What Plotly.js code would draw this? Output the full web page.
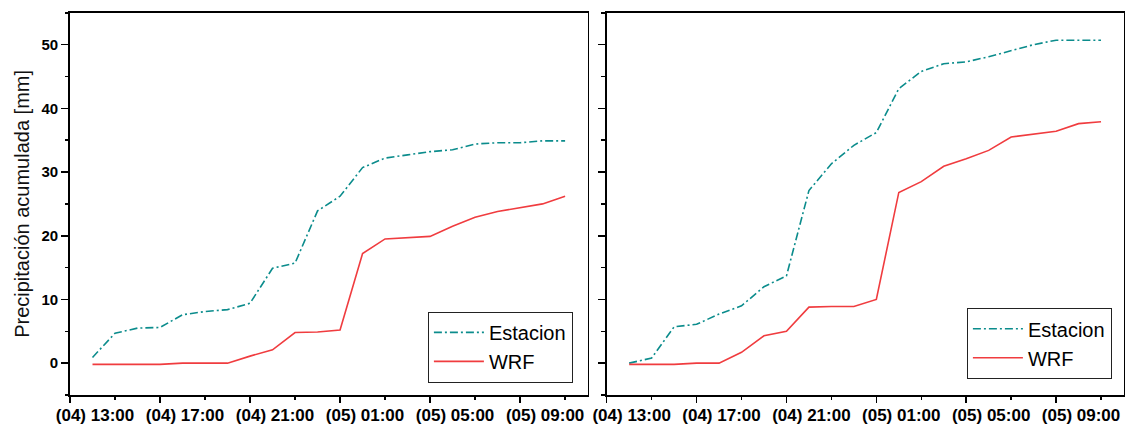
<!DOCTYPE html>
<html>
<head>
<meta charset="utf-8">
<script src="https://cdn.plot.ly/plotly-3.0.1.min.js"></script>
<style>
  html, body { margin: 0; padding: 0; background: #ffffff; }
  #chart { width: 1126px; height: 425px; }
</style>
</head>
<body>
<div id="chart"></div>
<script>
// Hours counted from (04) 00:00 — hourly observations from (04) 12:00 to (05) 09:00
const hours = [12, 13, 14, 15, 16, 17, 18, 19, 20, 21, 22, 23, 24, 25, 26, 27, 28, 29, 30, 31, 32, 33];

// Left panel
const estacionLeft = [0.9, 4.7, 5.5, 5.6, 7.6, 8.1, 8.4, 9.4, 14.9, 15.7, 23.9, 26.2, 30.7, 32.2, 32.7, 33.2, 33.5, 34.4, 34.6, 34.6, 34.9, 34.9];
const wrfLeft      = [-0.2, -0.2, -0.2, -0.2, 0.0, 0.0, 0.0, 1.1, 2.1, 4.8, 4.9, 5.2, 17.2, 19.5, 19.7, 19.9, 21.5, 22.9, 23.8, 24.4, 25.0, 26.2];

// Right panel
const estacionRight = [0.0, 0.8, 5.7, 6.1, 7.7, 9.0, 12.0, 13.7, 27.1, 31.3, 34.2, 36.2, 43.1, 45.8, 47.0, 47.3, 48.1, 49.1, 50.0, 50.7, 50.7, 50.7];
const wrfRight      = [-0.2, -0.2, -0.2, 0.0, 0.0, 1.7, 4.3, 5.0, 8.8, 8.9, 8.9, 10.0, 26.8, 28.5, 30.9, 32.1, 33.4, 35.5, 35.9, 36.4, 37.6, 37.9];

// Tick labels
const tickHours  = [13, 17, 21, 25, 29, 33];
const tickLabels = ["(04) 13:00", "(04) 17:00", "(04) 21:00", "(05) 01:00", "(05) 05:00", "(05) 09:00"];

const seriesNames = ["Estacion", "WRF"];
const teal = "#0b8c8c";
const red = "#f03c3f";
const FONT = "Arial, 'Liberation Sans', sans-serif";

const xRange = [11, 34];
const yRange = [-5, 55];

const domL = [70 / 1126, 587.6 / 1126];
const domR = [606.7 / 1126, 1123.5 / 1126];
const domY = [1 - 395 / 425, 1 - 12.8 / 425];

function bottomX(domain, anchor) {
  return {
    domain: domain, range: xRange, anchor: anchor,
    tickmode: "array", tickvals: tickHours, ticktext: tickLabels,
    ticks: "outside", ticklen: 3.5, tickwidth: 1.5, tickcolor: "#000",
    minor: { tickmode: "linear", tick0: 11, dtick: 4, ticks: "outside", ticklen: 6.5, tickwidth: 1.5, tickcolor: "#000", showgrid: false },
    ticklabelshift: -20,
    tickfont: { family: FONT, size: 17, color: "#000", weight: "bold" },
    showline: true, mirror: true, linecolor: "#000", linewidth: 1.8,
    showgrid: false, zeroline: false, fixedrange: true
  };
}
function topX(over, anchor) {
  return {
    overlaying: over, anchor: anchor, side: "top", range: xRange,
    tickmode: "linear", tick0: 11, dtick: 4,
    ticks: "inside", ticklen: 7, tickwidth: 1.5, tickcolor: "#000",
    minor: { tickmode: "linear", tick0: 13, dtick: 4, ticks: "inside", ticklen: 3.5, tickwidth: 1.5, tickcolor: "#000", showgrid: false },
    showticklabels: false, showline: false, showgrid: false, zeroline: false, fixedrange: true
  };
}
function leftY(anchor, labels) {
  return {
    domain: domY, range: yRange, anchor: anchor,
    tickmode: "linear", tick0: 0, dtick: 10,
    ticks: "outside", ticklen: 7, tickwidth: 1.5, tickcolor: "#000",
    minor: { tickmode: "linear", tick0: -5, dtick: 5, ticks: "outside", ticklen: 3.5, tickwidth: 1.5, tickcolor: "#000", showgrid: false },
    showticklabels: labels,
    tickfont: { family: FONT, size: 15, color: "#000", weight: "bold" },
    showline: true, mirror: true, linecolor: "#000", linewidth: 1.8,
    showgrid: false, zeroline: false, fixedrange: true
  };
}
function rightY(over, anchor) {
  return {
    overlaying: over, anchor: anchor, side: "right", range: yRange,
    tickmode: "linear", tick0: 0, dtick: 10,
    ticks: "inside", ticklen: 7, tickwidth: 1.5, tickcolor: "#000",
    minor: { tickmode: "linear", tick0: -5, dtick: 5, ticks: "inside", ticklen: 3.5, tickwidth: 1.5, tickcolor: "#000", showgrid: false },
    showticklabels: false, showline: false, showgrid: false, zeroline: false, fixedrange: true
  };
}

const estacionLine = { color: teal, width: 1.6, dash: "8px,3px,2px,3px" };
const wrfLine = { color: red, width: 1.6 };

const traces = [
  { x: hours, y: estacionLeft, name: seriesNames[0], type: "scatter", mode: "lines", line: estacionLine, xaxis: "x", yaxis: "y", legend: "legend" },
  { x: hours, y: wrfLeft, name: seriesNames[1], type: "scatter", mode: "lines", line: wrfLine, xaxis: "x", yaxis: "y", legend: "legend" },
  { x: hours, y: estacionRight, name: seriesNames[0], type: "scatter", mode: "lines", line: estacionLine, xaxis: "x2", yaxis: "y2", legend: "legend2" },
  { x: hours, y: wrfRight, name: seriesNames[1], type: "scatter", mode: "lines", line: wrfLine, xaxis: "x2", yaxis: "y2", legend: "legend2" }
];

const yL = leftY("x", true);
yL.title = { text: "Precipitación acumulada [mm]", font: { family: FONT, size: 20, color: "#111" }, standoff: 6 };

const legendBase = {
  font: { family: FONT, size: 20, color: "#000" },
  bgcolor: "#ffffff", bordercolor: "#222", borderwidth: 1.2,
  xanchor: "right", yanchor: "bottom", itemwidth: 50, tracegroupgap: 0,
  traceorder: "normal"
};

const layout = {
  width: 1126, height: 425,
  margin: { l: 0, r: 0, t: 0, b: 0 },
  paper_bgcolor: "#ffffff", plot_bgcolor: "#ffffff",
  font: { family: FONT, color: "#000" },
  showlegend: true,
  xaxis: bottomX(domL, "y"),
  xaxis2: bottomX(domR, "y2"),
  xaxis3: topX("x", "y"),
  xaxis4: topX("x2", "y2"),
  yaxis: yL,
  yaxis2: leftY("x2", false),
  yaxis3: rightY("y", "x"),
  yaxis4: rightY("y2", "x2"),
  legend: Object.assign({}, legendBase, { x: 572.7 / 1126, y: 1 - 382.7 / 425 }),
  legend2: Object.assign({}, legendBase, { x: 1111.7 / 1126, y: 1 - 379 / 425 })
};

Plotly.newPlot("chart", traces, layout, { staticPlot: true, displayModeBar: false });
</script>
</body>
</html>
